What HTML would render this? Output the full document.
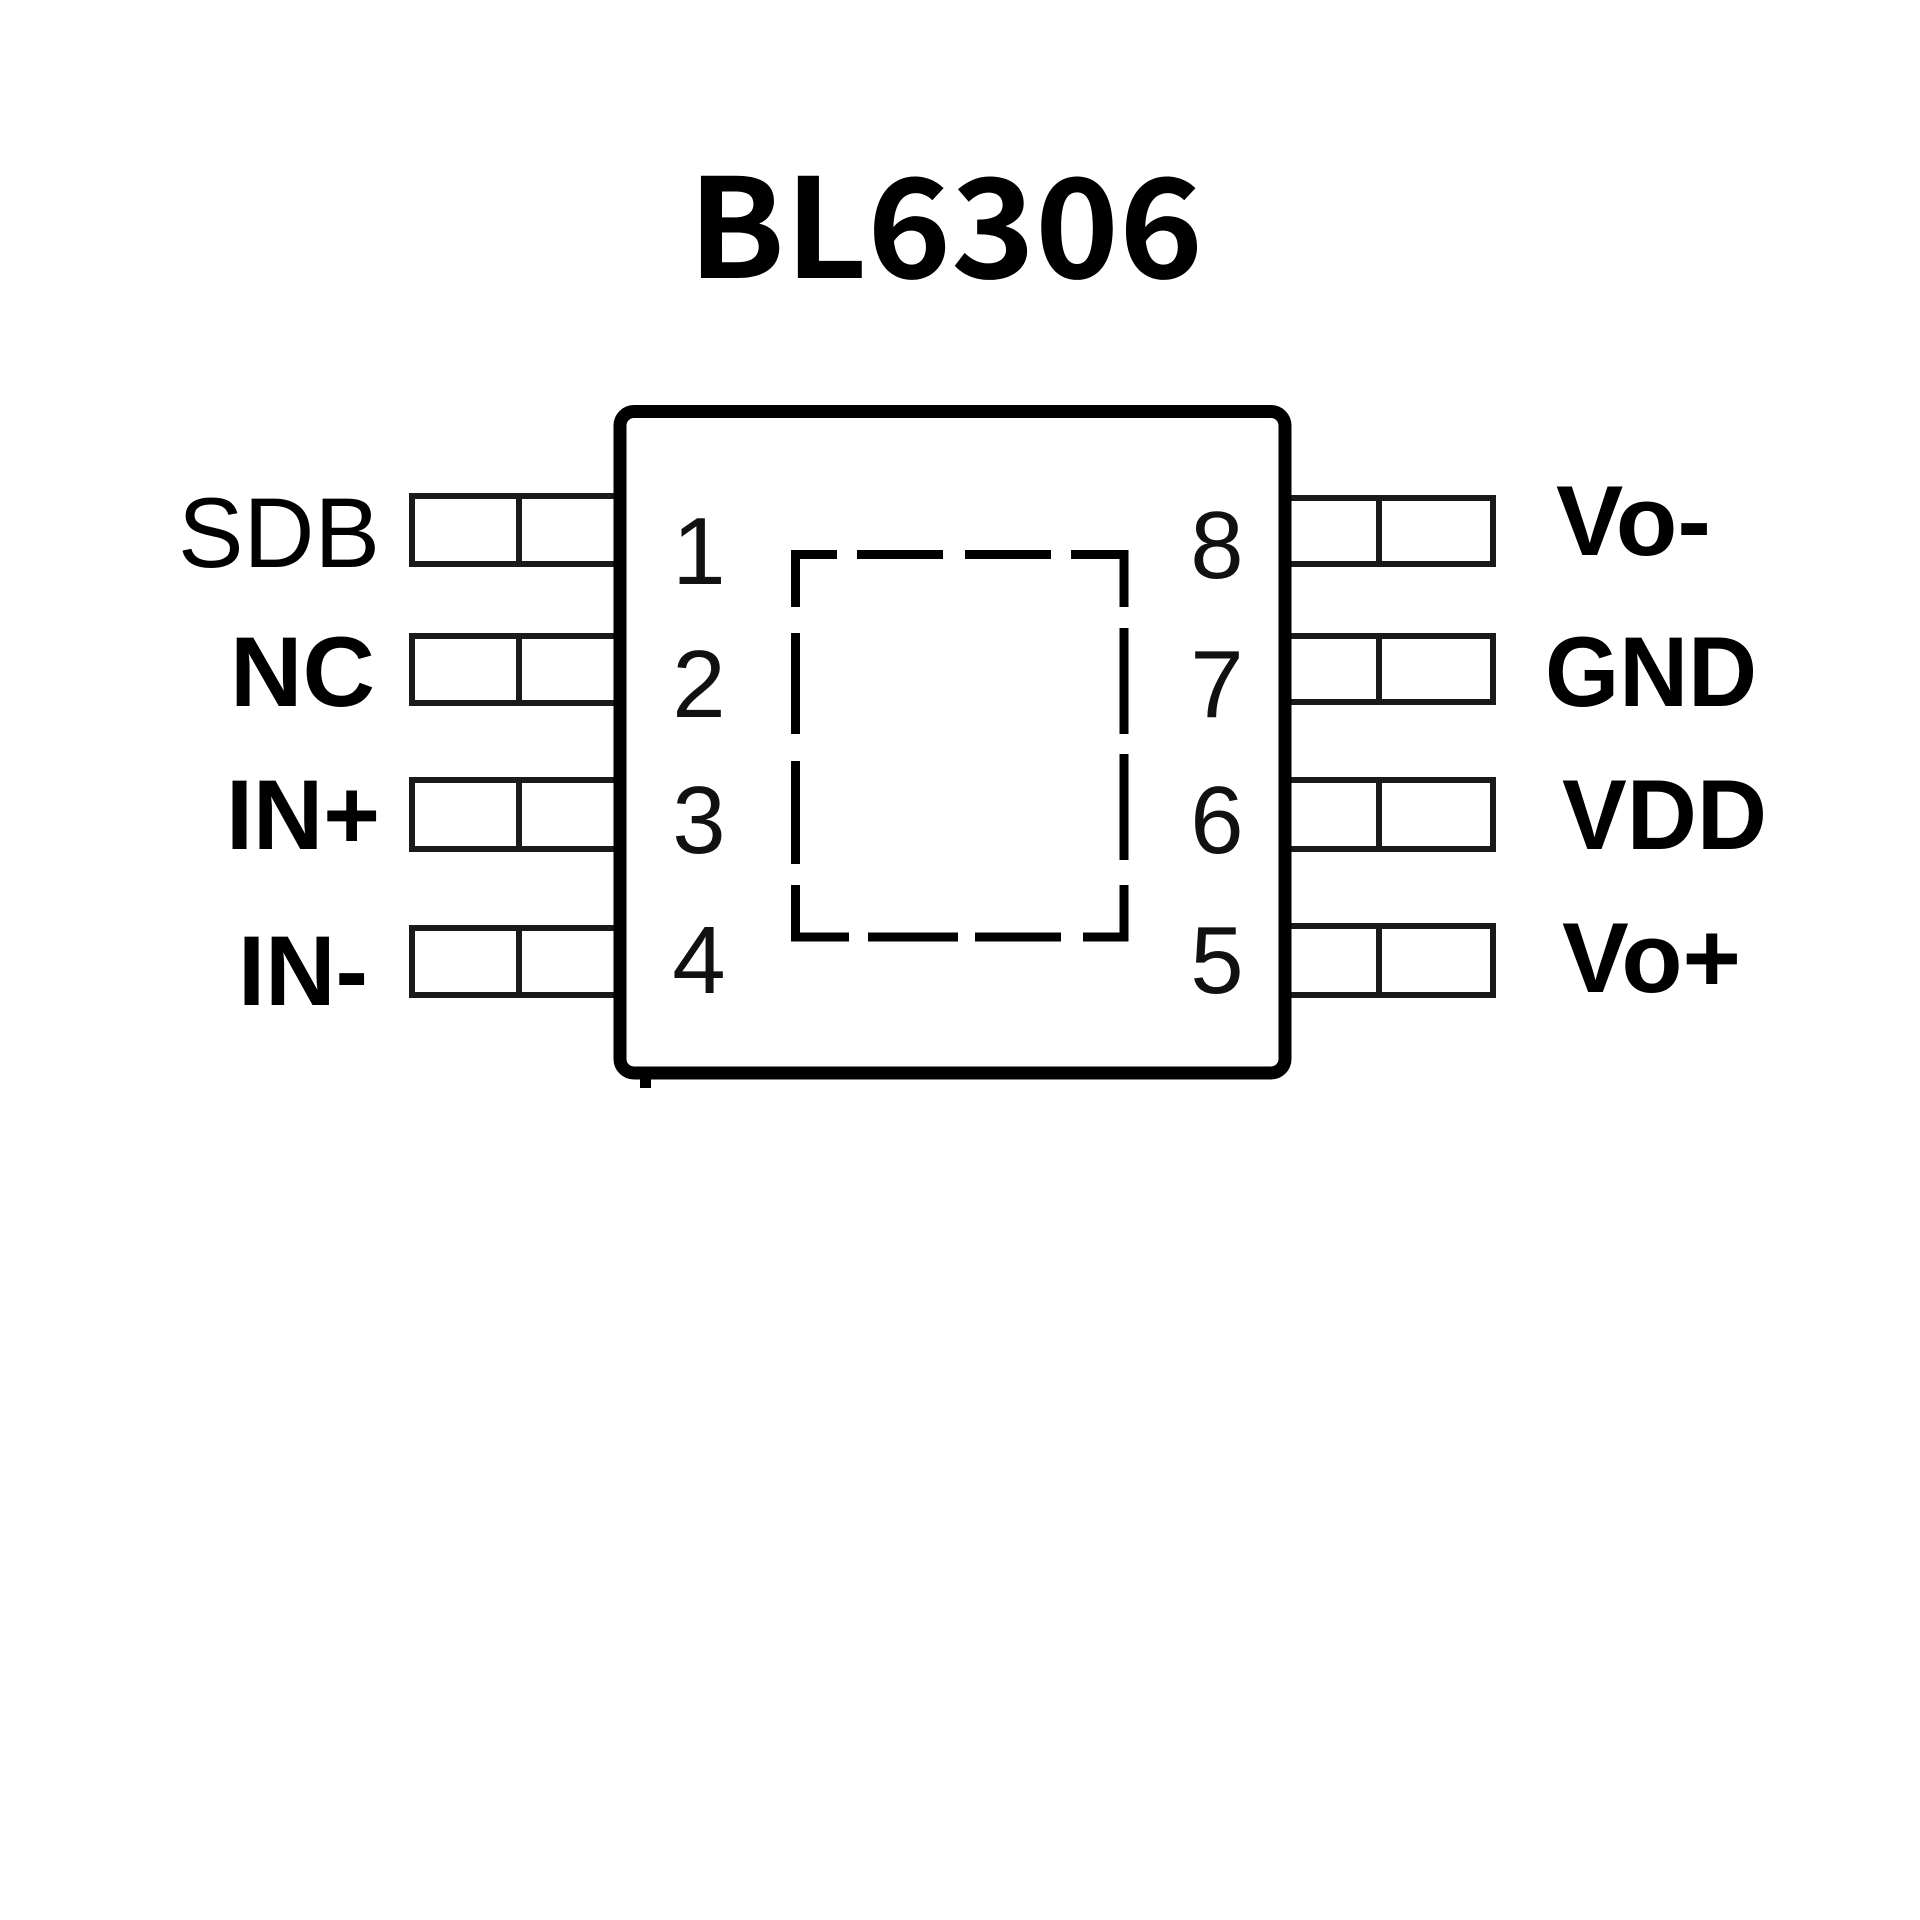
<!DOCTYPE html>
<html>
<head>
<meta charset="utf-8">
<style>
  html, body { margin: 0; padding: 0; background: #ffffff; }
  svg { display: block; }
</style>
</head>
<body>
<svg width="1920" height="1920" viewBox="0 0 1920 1920" xmlns="http://www.w3.org/2000/svg">
  <rect x="0" y="0" width="1920" height="1920" fill="#ffffff"/>

  <!-- Title -->
  <text x="688" y="278" font-family="'Noto Sans CJK SC', 'Liberation Sans', sans-serif" font-weight="700" font-size="138" fill="#000" textLength="515" lengthAdjust="spacingAndGlyphs">BL6306</text>

  <!-- Left pins -->
  <g fill="none" stroke="#1a1a1a" stroke-width="6">
    <rect x="412" y="496" width="210" height="68"/>
    <line x1="519" y1="496" x2="519" y2="564"/>
    <rect x="412" y="636" width="210" height="67"/>
    <line x1="519" y1="636" x2="519" y2="703"/>
    <rect x="412" y="780" width="210" height="69"/>
    <line x1="519" y1="780" x2="519" y2="849"/>
    <rect x="412" y="928" width="210" height="67"/>
    <line x1="519" y1="928" x2="519" y2="995"/>
  </g>

  <!-- Right pins -->
  <g fill="none" stroke="#1a1a1a" stroke-width="6">
    <rect x="1283" y="498" width="210" height="66"/>
    <line x1="1379" y1="498" x2="1379" y2="564"/>
    <rect x="1283" y="636" width="210" height="66"/>
    <line x1="1379" y1="636" x2="1379" y2="702"/>
    <rect x="1283" y="780" width="210" height="69"/>
    <line x1="1379" y1="780" x2="1379" y2="849"/>
    <rect x="1283" y="926" width="210" height="69"/>
    <line x1="1379" y1="926" x2="1379" y2="995"/>
  </g>

  <!-- Chip body -->
  <rect x="620" y="411.5" width="665" height="661.5" rx="14" ry="14" fill="#ffffff" stroke="#000" stroke-width="13"/>
  <rect x="640" y="1076" width="11" height="12" fill="#000"/>

  <!-- Dashed exposed pad -->
  <g fill="none" stroke="#000" stroke-width="9" stroke-linecap="butt" stroke-linejoin="miter">
    <path d="M795.5,607 V554.5 H837"/>
    <path d="M857,554.5 H943"/>
    <path d="M965,554.5 H1051"/>
    <path d="M1071,554.5 H1124 V607"/>
    <path d="M795.5,633 V734"/>
    <path d="M795.5,761 V864"/>
    <path d="M1124,628 V734"/>
    <path d="M1124,754 V860"/>
    <path d="M795.5,885 V937 H849"/>
    <path d="M868,937 H958"/>
    <path d="M975,937 H1061"/>
    <path d="M1083,937 H1124 V885"/>
  </g>

  <!-- Pin numbers -->
  <g font-family="'Liberation Sans', sans-serif" font-size="96" fill="#111" text-anchor="middle">
    <text x="699" y="584">1</text>
    <text x="699" y="717">2</text>
    <text x="699" y="853">3</text>
    <text x="699" y="993">4</text>
    <text x="1217" y="578">8</text>
    <text x="1217" y="717">7</text>
    <text x="1217" y="853">6</text>
    <text x="1217" y="993">5</text>
  </g>

  <!-- Left labels -->
  <g font-family="'Liberation Sans', sans-serif" font-size="99" fill="#000">
    <text x="178" y="567" textLength="202" lengthAdjust="spacingAndGlyphs">SDB</text>
    <text x="230" y="706" font-weight="700" textLength="145" lengthAdjust="spacingAndGlyphs">NC</text>
    <text x="226" y="849" font-weight="700" textLength="154" lengthAdjust="spacingAndGlyphs">IN+</text>
    <text x="238" y="1005" font-weight="700" textLength="130" lengthAdjust="spacingAndGlyphs">IN-</text>
  </g>

  <!-- Right labels -->
  <g font-family="'Liberation Sans', sans-serif" font-size="99" font-weight="700" fill="#000">
    <text x="1556" y="555" textLength="155" lengthAdjust="spacingAndGlyphs">Vo-</text>
    <text x="1545" y="706" textLength="212" lengthAdjust="spacingAndGlyphs">GND</text>
    <text x="1562" y="849" textLength="205" lengthAdjust="spacingAndGlyphs">VDD</text>
    <text x="1562" y="992" textLength="179" lengthAdjust="spacingAndGlyphs">Vo+</text>
  </g>
</svg>
</body>
</html>
